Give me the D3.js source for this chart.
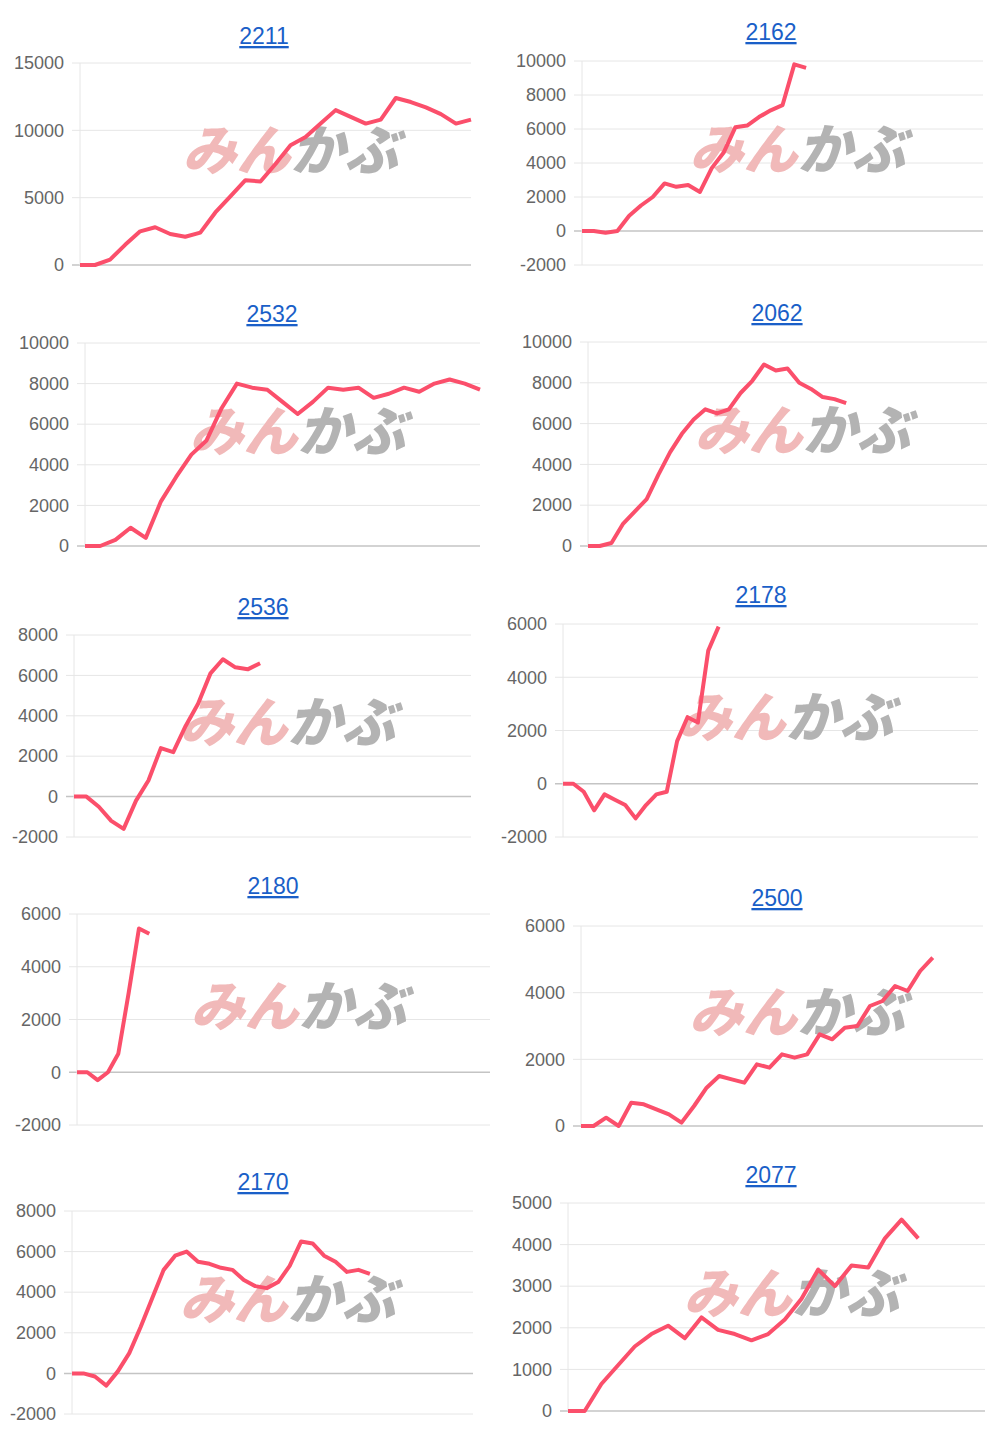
<!DOCTYPE html>
<html>
<head>
<meta charset="utf-8">
<script src="https://cdn.jsdelivr.net/npm/d3@7"></script>
<style>
  body { margin: 0; background: #fff; }
  svg { display: block; font-family: "Liberation Sans", Arial, sans-serif; }
</style>
</head>
<body>
<svg id="chart" width="1000" height="1438"></svg>
<script>
// stock codes (chart titles)
const codes = ["2211", "2162", "2532", "2062", "2536", "2178", "2180", "2500", "2170", "2077"];

// cumulative values
const v2211 = [0, 0, 400, 1500, 2500, 2800, 2300, 2100, 2400, 3900, 5100, 6300, 6200, 7500, 8900, 9500, 10500, 11500, 11000, 10500, 10800, 12400, 12100, 11700, 11200, 10500, 10800];
const v2162 = [0, 0, -100, 0, 900, 1500, 2000, 2800, 2600, 2700, 2300, 3700, 4600, 6100, 6200, 6700, 7100, 7400, 9800, 9600];
const v2532 = [0, 0, 300, 900, 400, 2200, 3400, 4500, 5200, 6800, 8000, 7800, 7700, 7100, 6500, 7100, 7800, 7700, 7800, 7300, 7500, 7800, 7600, 8000, 8200, 8000, 7700];
const v2062 = [0, 0, 150, 1100, 1700, 2300, 3500, 4600, 5500, 6200, 6700, 6500, 6700, 7500, 8100, 8900, 8600, 8700, 8000, 7700, 7300, 7200, 7000];
const v2536 = [0, 0, -500, -1200, -1600, -200, 800, 2400, 2200, 3500, 4600, 6100, 6800, 6400, 6300, 6600];
const v2178 = [0, 0, -300, -1000, -400, -600, -800, -1300, -800, -400, -300, 1600, 2500, 2300, 5000, 5900];
const v2180 = [0, 0, -300, 0, 700, 3000, 5450, 5250];
const v2500 = [0, 0, 250, 0, 700, 650, 500, 350, 100, 600, 1150, 1500, 1400, 1300, 1850, 1750, 2150, 2050, 2150, 2750, 2600, 2950, 3000, 3600, 3750, 4200, 4050, 4650, 5050];
const v2170 = [0, 0, -150, -600, 100, 1000, 2300, 3700, 5100, 5800, 6000, 5500, 5400, 5200, 5100, 4600, 4300, 4200, 4500, 5300, 6500, 6400, 5800, 5500, 5000, 5100, 4900];
const v2077 = [0, 0, 650, 1100, 1550, 1850, 2050, 1750, 2250, 1950, 1850, 1700, 1850, 2200, 2700, 3400, 3000, 3500, 3450, 4150, 4600, 4150];
const series = [v2211, v2162, v2532, v2062, v2536, v2178, v2180, v2500, v2170, v2077];

// y tick values per panel
const yTicks = [
  [0, 5000, 10000, 15000],
  [-2000, 0, 2000, 4000, 6000, 8000, 10000],
  [0, 2000, 4000, 6000, 8000, 10000],
  [0, 2000, 4000, 6000, 8000, 10000],
  [-2000, 0, 2000, 4000, 6000, 8000],
  [-2000, 0, 2000, 4000, 6000],
  [-2000, 0, 2000, 4000, 6000],
  [0, 2000, 4000, 6000],
  [-2000, 0, 2000, 4000, 6000, 8000],
  [0, 1000, 2000, 3000, 4000, 5000]
];
// number of x slots each panel spans
const xSlots = [26, 34, 26, 34, 32, 40, 40, 32, 35, 25];

// panel placement: plot left, right, top, bottom, title x, title y
const layout = [
  [80, 471, 63, 265, 264, 36],
  [582, 983, 61, 265, 771, 32],
  [85, 480, 343, 546, 272, 314],
  [588, 987, 342, 546, 777, 313],
  [74, 471, 635, 837, 263, 607],
  [563, 978, 624, 837, 761, 595],
  [77, 490, 914, 1125, 273, 886],
  [581, 983, 926, 1126, 777, 898],
  [72, 473, 1211, 1414, 263, 1182],
  [568, 985, 1203, 1411, 771, 1175]
];

const svg = d3.select("#chart");

codes.forEach((code, i) => {
  const [l, r, t, b, tx, ty] = layout[i];
  const ticks = yTicks[i];
  const x = d3.scaleLinear().domain([0, xSlots[i]]).range([l, r]);
  const y = d3.scaleLinear().domain(d3.extent(ticks)).range([b, t]);
  const g = svg.append("g");

  // grid lines
  g.selectAll("line.grid").data(ticks).join("line")
    .attr("x1", l - 8).attr("x2", r)
    .attr("y1", d => y(d)).attr("y2", d => y(d))
    .attr("stroke", d => d === 0 ? "#c4c4c4" : "#e6e6e6")
    .attr("stroke-width", d => d === 0 ? 1.5 : 1);

  g.append("line")
    .attr("x1", l).attr("x2", l).attr("y1", t).attr("y2", b)
    .attr("stroke", "#e6e6e6");

  // y axis labels
  const axis = g.append("g")
    .attr("transform", "translate(" + (l - 16) + ",0)")
    .call(d3.axisLeft(y).tickValues(ticks).tickSize(0).tickPadding(0).tickFormat(d => String(d)));
  axis.select(".domain").remove();
  axis.selectAll("text").attr("fill", "#666").attr("font-size", 18)
    .attr("font-family", "'Liberation Sans', Arial, sans-serif");

  // watermark
  const cx = (l + r) / 2 + 15, cy = (t + b) / 2 - 13;
  const wm = g.append("text")
    .attr("x", cx).attr("y", cy + 19)
    .attr("text-anchor", "middle")
    .attr("font-size", 54).attr("font-weight", 900).attr("font-style", "italic")
    .attr("font-family", "'Noto Sans CJK JP', sans-serif");
  wm.append("tspan").attr("fill", "#f1b9b9").text("みん");
  wm.append("tspan").attr("fill", "#b3b3b3").text("かぶ");

  // line
  g.append("path")
    .datum(series[i])
    .attr("fill", "none")
    .attr("stroke", "#fb4f6b")
    .attr("stroke-width", 4)
    .attr("stroke-linejoin", "round")
    .attr("d", d3.line().x((d, k) => x(k)).y(d => y(d)));

  // title
  g.append("text")
    .attr("x", tx).attr("y", ty + 8)
    .attr("text-anchor", "middle")
    .attr("font-size", 23)
    .attr("fill", "#1a5fc8")
    .attr("text-decoration", "underline")
    .text(code);
});
</script>
</body>
</html>
